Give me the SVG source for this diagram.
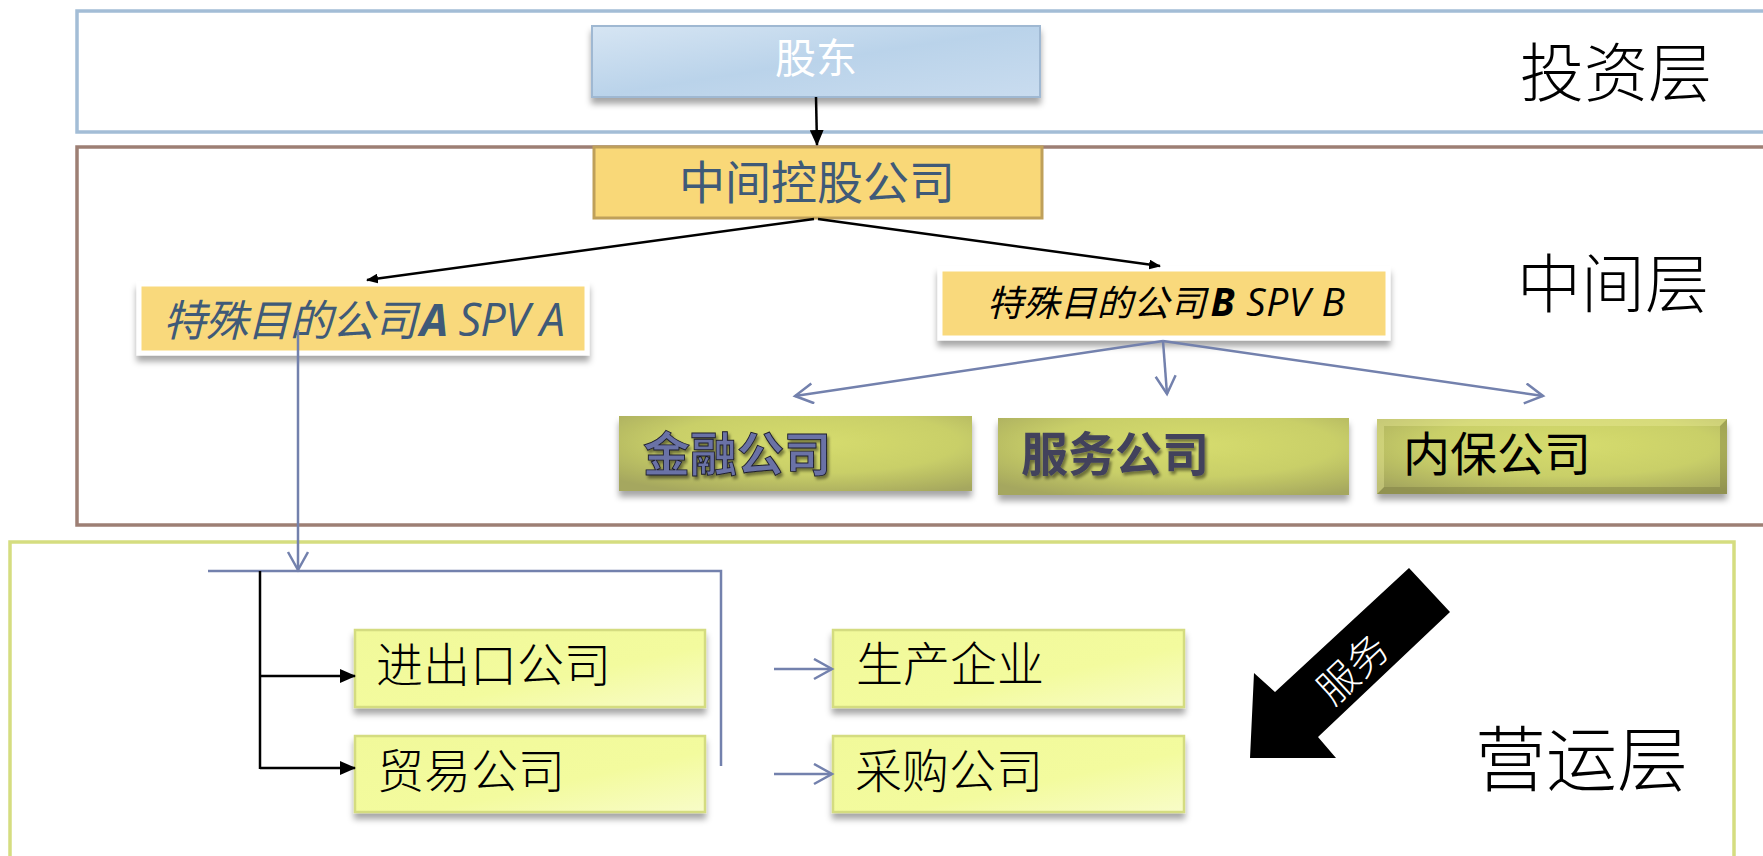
<svg xmlns="http://www.w3.org/2000/svg" width="1763" height="856" viewBox="0 0 1763 856">
<style>
text{font-family:"Noto Sans CJK SC","Liberation Sans",sans-serif;}
.layer{fill:none;stroke-width:3.5;}
.lbl{font-size:64px;fill:#000;font-weight:300;}
.blk{fill:none;stroke:#000;stroke-width:2.5;}
.blu{fill:none;stroke:#7381ad;stroke-width:2.5;}
.olive{fill:url(#gOlive);filter:url(#sh);}
.lite{fill:url(#gLite);stroke:#d4dc80;stroke-width:2.5;filter:url(#sh);}
.spv{fill:#f9d97b;stroke:#fff;stroke-width:5;filter:url(#sh);}
.ops{font-size:47px;fill:#000;font-weight:300;}
.lat{font-family:"Open Sans","Liberation Sans",sans-serif;}
</style>
<defs>
<filter id="sh" x="-10%" y="-20%" width="120%" height="160%">
<feDropShadow dx="0" dy="6" stdDeviation="3" flood-color="#000" flood-opacity="0.35"/>
</filter>
<filter id="tsh" x="-10%" y="-20%" width="130%" height="150%">
<feDropShadow dx="2" dy="3" stdDeviation="1.5" flood-color="#000" flood-opacity="0.45"/>
</filter>
<linearGradient id="gBlue" x1="0" y1="0" x2="1" y2="1">
<stop offset="0" stop-color="#d6e5f3"/>
<stop offset="0.5" stop-color="#bad3ea"/>
<stop offset="1" stop-color="#c9dcef"/>
</linearGradient>
<radialGradient id="gOlive" cx="0.55" cy="0.35" r="0.75">
<stop offset="0" stop-color="#d6dc6e"/>
<stop offset="0.55" stop-color="#c9cf68"/>
<stop offset="1" stop-color="#a5a75e"/>
</radialGradient>
<linearGradient id="gLite" x1="0" y1="0" x2="1" y2="1">
<stop offset="0" stop-color="#f1f99a"/>
<stop offset="0.6" stop-color="#f3fb9e"/>
<stop offset="1" stop-color="#f8fcc8"/>
</linearGradient>
<marker id="mBlk" markerUnits="userSpaceOnUse" markerWidth="16" markerHeight="14" refX="15" refY="7" orient="auto">
<path d="M0,0 L16,7 L0,14 z" fill="#000"/>
</marker>
<marker id="mBlkS" markerUnits="userSpaceOnUse" markerWidth="12" markerHeight="10" refX="11" refY="5" orient="auto">
<path d="M0,0 L12,5 L0,10 z" fill="#000"/>
</marker>
<marker id="mBlu" markerUnits="userSpaceOnUse" markerWidth="22" markerHeight="24" refX="19" refY="11" orient="auto">
<path d="M1,1 L19,11 L1,21" fill="none" stroke="#7381ad" stroke-width="2.5"/>
</marker>
</defs>

<g id="layers">
<rect id="layer-invest" class="layer" x="77" y="11" width="1720" height="121" stroke="#a3bdd6"/>
<rect id="layer-middle" class="layer" x="77" y="147" width="1720" height="378" stroke="#9d7f74"/>
<rect id="layer-ops" class="layer" x="10" y="542" width="1724" height="340" stroke="#d5dd80"/>
<text class="lbl" x="1520" y="96">投资层</text>
<text class="lbl" x="1517" y="307">中间层</text>
<text class="lbl" x="1475" y="785" style="font-size:71px">营运层</text>
</g>

<g id="node-gudong">
<rect x="592" y="26" width="448" height="71" fill="url(#gBlue)" stroke="#9fb8d2" stroke-width="2" filter="url(#sh)"/>
<text x="816" y="73" text-anchor="middle" font-size="41" fill="#fff">股东</text>
</g>

<g id="node-holding">
<rect x="594" y="147" width="448" height="71" fill="#f9d878" stroke="#bfa05a" stroke-width="3"/>
<text x="817" y="199" text-anchor="middle" font-size="46" fill="#3f5a78">中间控股公司</text>
</g>

<g id="node-spva">
<rect class="spv" x="139" y="284" width="448" height="69"/>
<text x="163" y="336" font-size="43" fill="#3f5a78" font-style="italic" textLength="402"><tspan>特殊目的公司</tspan><tspan class="lat" dx="4" font-weight="bold" font-size="45">A</tspan><tspan class="lat" font-size="45"> SPV A</tspan></text>
</g>

<g id="node-spvb">
<rect class="spv" x="940" y="269" width="448" height="69"/>
<text x="987" y="316" font-size="36" fill="#000" font-style="italic" textLength="358"><tspan>特殊目的公司</tspan><tspan class="lat" dx="4" font-weight="bold" font-size="39">B</tspan><tspan class="lat" font-size="39"> SPV B</tspan></text>
</g>

<g id="node-jinrong">
<rect class="olive" x="619" y="416" width="353" height="75"/>
<text x="643" y="471" font-size="47" font-weight="bold" fill="#6b72a6" stroke="#1c1c2c" stroke-width="0.9" filter="url(#tsh)">金融公司</text>
</g>

<g id="node-fuwu">
<rect class="olive" x="998" y="418" width="351" height="77"/>
<text x="1021" y="471" font-size="47" font-weight="bold" fill="#42425c" filter="url(#tsh)">服务公司</text>
</g>

<g id="node-neibao">
<rect class="olive" x="1377" y="419" width="350" height="75"/>
<path d="M1377,494 L1384,487 L1720,487 L1727,494 Z M1727,419 L1720,426 L1720,487 L1727,494 Z" fill="#6e6e38" fill-opacity="0.35"/>
<path d="M1377,419 L1727,419 L1720,426 L1384,426 Z M1377,419 L1384,426 L1384,487 L1377,494 Z" fill="#f0f2a0" fill-opacity="0.35"/>
<text x="1403" y="471" font-size="47" fill="#000">内保公司</text>
</g>

<g id="node-jinchukou">
<rect class="lite" x="355" y="630" width="350" height="77"/>
<text class="ops" x="376" y="682">进出口公司</text>
</g>

<g id="node-maoyi">
<rect class="lite" x="355" y="736" width="350" height="76"/>
<text class="ops" x="377" y="788">贸易公司</text>
</g>

<g id="node-shengchan">
<rect class="lite" x="833" y="630" width="351" height="77"/>
<text class="ops" x="856" y="681">生产企业</text>
</g>

<g id="node-caigou">
<rect class="lite" x="833" y="736" width="351" height="76"/>
<text class="ops" x="855" y="788">采购公司</text>
</g>

<g id="connectors">
<line class="blk" x1="816" y1="97" x2="817" y2="145" marker-end="url(#mBlk)"/>
<line class="blk" x1="814" y1="219" x2="367" y2="280" marker-end="url(#mBlkS)"/>
<line class="blk" x1="818" y1="219" x2="1160" y2="266" marker-end="url(#mBlkS)"/>
<line class="blu" x1="1163" y1="341" x2="795" y2="396" marker-end="url(#mBlu)"/>
<line class="blu" x1="1163" y1="341" x2="1167" y2="394" marker-end="url(#mBlu)"/>
<line class="blu" x1="1163" y1="341" x2="1543" y2="396" marker-end="url(#mBlu)"/>
<line class="blu" x1="298" y1="330" x2="298" y2="570" marker-end="url(#mBlu)"/>
<polyline class="blu" points="208,571 721,571 721,766"/>
<line class="blk" x1="260" y1="571" x2="260" y2="769"/>
<line class="blk" x1="260" y1="676" x2="355" y2="676" stroke-width="3" marker-end="url(#mBlk)"/>
<line class="blk" x1="260" y1="768" x2="355" y2="768" stroke-width="3" marker-end="url(#mBlk)"/>
<line class="blu" x1="774" y1="669" x2="832" y2="669" marker-end="url(#mBlu)"/>
<line class="blu" x1="774" y1="774" x2="832" y2="774" marker-end="url(#mBlu)"/>
</g>

<g id="service-arrow">
<polygon points="1409,568 1450,612 1318,737 1336,758 1250,758 1254,673 1275,692" fill="#000"/>
<text transform="translate(1351,667) rotate(-43)" text-anchor="middle" dominant-baseline="central" font-size="40" fill="#fff" font-weight="300">服务</text>
</g>
</svg>
